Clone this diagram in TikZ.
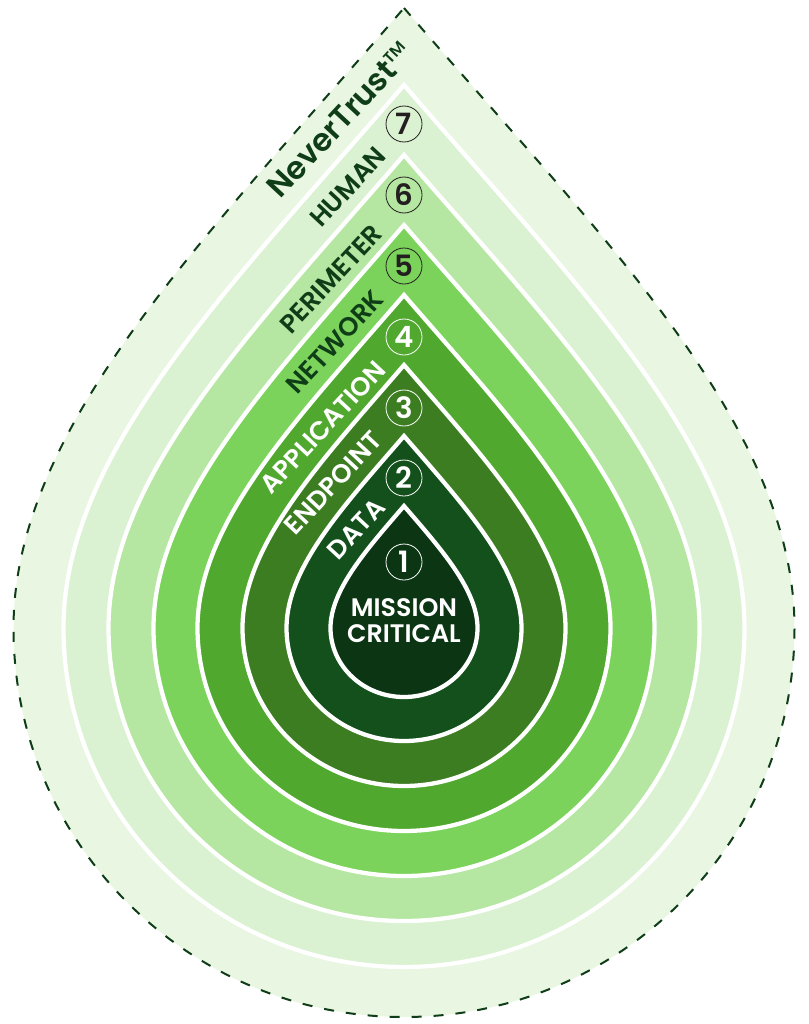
\documentclass[tikz,border=0pt]{standalone}
\usepackage{fontspec}
\setmainfont{Poppins}[BoldFont={Poppins SemiBold}]
\definecolor{layerA}{HTML}{E8F6E2}
\definecolor{layerB}{HTML}{DAF2D2}
\definecolor{layerC}{HTML}{B5E6A2}
\definecolor{layerD}{HTML}{7BD35B}
\definecolor{layerE}{HTML}{50A82E}
\definecolor{layerF}{HTML}{3C7D22}
\definecolor{layerG}{HTML}{13501B}
\definecolor{layerH}{HTML}{0B3513}
\definecolor{darktext}{HTML}{0F3D17}
\definecolor{numtext}{HTML}{231F20}
\newcommand{\dropshape}[3]{% half width, tip height, half height
  (404,628-#2) .. controls ({404+0.5*#1},{628-#2+0.58*#1}) and (404+#1,{628-0.52*#1}) .. (404+#1,628)
  .. controls (404+#1,{628+0.552*#3}) and ({404+0.552*#1},628+#3) .. (404,628+#3)
  .. controls ({404-0.552*#1},628+#3) and (404-#1,{628+0.552*#3}) .. (404-#1,628)
  .. controls (404-#1,{628-0.52*#1}) and ({404-0.5*#1},{628-#2+0.58*#1}) .. cycle}
\tikzset{every picture/.style={line width=0.75pt},
  layer/.style={draw=white,line width=3.2pt,line join=miter},
  outerlayer/.style={draw=darktext,line width=1.5pt,dash pattern=on 7.5pt off 9pt},
  darklabel/.style={font=\bfseries\fontsize{19.5}{19.5}\selectfont,text=darktext,rotate=47,inner sep=0pt},
  lightlabel/.style={font=\bfseries\fontsize{19.5}{19.5}\selectfont,text=white,rotate=47,inner sep=0pt},
  darknum/.style={circle,draw=numtext,line width=0.6pt,minimum size=27pt,inner sep=0pt,text=numtext,font=\bfseries\fontsize{22}{22}\selectfont},
  lightnum/.style={darknum,draw=white,text=white}}

\begin{document}
\begin{tikzpicture}[x=0.75pt,y=0.75pt,yscale=-1,xscale=1]
\useasboundingbox (0,0) rectangle (808,1024);

% layers
\fill[layerA] \dropshape{390.5}{620}{389};
\draw[outerlayer] \dropshape{390.5}{620}{389};
\foreach \r/\h/\b/\c in {340.5/543/339/layerB,295.5/473/293/layerC,250.5/403/248/layerD,206.5/333/203/layerE,161.5/263/158/layerF,117.5/192/113/layerG,73.5/122/69/layerH}
  \draw[layer,fill=\c] \dropshape{\r}{\h}{\b};

% Numbers
\node[darknum] (seven) at (404,124) {7};
\node[darknum] (six) at (404,195) {6};
\node[darknum] (five) at (404,266) {5};
\node[lightnum] (four) at (404,337) {4};
\node[lightnum] (three) at (404,408) {3};
\node[lightnum] (two) at (404,478) {2};
\node[lightnum] (one) at (404,562) {1};

% Text
\node[darklabel,font=\bfseries\fontsize{23.5}{23.5}\selectfont] (nevertrust) at (340,120) {NeverTrust{\fontseries{m}\selectfont ™}};
\node[darklabel] (human) at (348,187) {HUMAN};
\node[darklabel] (perimeter) at (331,279) {PERIMETER};
\node[darklabel] (network) at (335,342) {NETWORK};
\node[lightlabel] (application) at (323,427) {APPLICATION};
\node[lightlabel] (endpoint) at (333,483) {ENDPOINT};
\node[lightlabel] (data) at (356,529) {DATA};
\node[lightlabel,rotate=-47,align=center,font=\bfseries\fontsize{19}{19}\selectfont] (mission) at (404,620.5) {MISSION\\[1pt]CRITICAL};
\end{tikzpicture}
\end{document}
